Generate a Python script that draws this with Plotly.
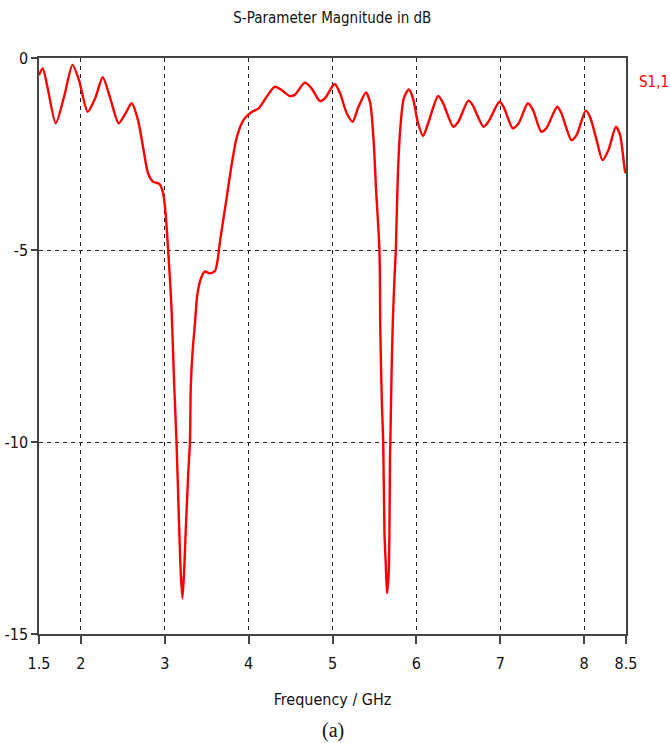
import plotly.graph_objects as go

freq_ghz = [1.50, 1.544, 1.60, 1.70, 1.80, 1.90, 1.98, 2.08, 2.17, 2.26, 2.35, 2.45, 2.53, 2.605,
            2.68, 2.74, 2.80, 2.86, 2.935, 2.98, 3.01, 3.04, 3.08, 3.11, 3.14, 3.17, 3.19, 3.21,
            3.23, 3.25, 3.28, 3.30, 3.31, 3.33, 3.36, 3.39, 3.44, 3.48, 3.54, 3.60, 3.63, 3.66,
            3.74, 3.80, 3.86, 3.94, 4.04, 4.12, 4.23, 4.31, 4.39, 4.49, 4.55, 4.67, 4.75, 4.85,
            4.91, 5.01, 5.03, 5.09, 5.17, 5.24, 5.31, 5.40, 5.45, 5.49, 5.52, 5.56, 5.57, 5.59,
            5.605, 5.62, 5.635, 5.65, 5.67, 5.68, 5.685, 5.69, 5.705, 5.72, 5.74, 5.755, 5.78,
            5.81, 5.85, 5.91, 5.96, 6.02, 6.08, 6.14, 6.26, 6.32, 6.44, 6.50, 6.62, 6.67, 6.80,
            6.86, 6.99, 7.04, 7.15, 7.22, 7.33, 7.39, 7.49, 7.55, 7.68, 7.73, 7.85, 7.91, 8.02,
            8.07, 8.15, 8.22, 8.29, 8.38, 8.43, 8.49, 8.50]
s11_db = [-0.45, -0.27, -0.75, -1.70, -1.00, -0.18, -0.60, -1.40, -1.05, -0.50, -1.05, -1.70, -1.45, -1.18,
          -1.61, -2.31, -3.00, -3.22, -3.28, -3.52, -4.05, -5.00, -6.48, -8.39, -10.0, -12.12, -13.40, -14.07,
          -13.40, -12.30, -10.80, -10.0, -8.56, -7.69, -6.91, -6.13, -5.69, -5.56, -5.61, -5.54, -5.26, -4.75,
          -3.61, -2.74, -2.05, -1.61, -1.40, -1.31, -0.96, -0.75, -0.83, -0.99, -0.96, -0.64, -0.79, -1.12,
          -1.05, -0.70, -0.68, -0.92, -1.44, -1.66, -1.27, -0.90, -1.18, -2.14, -3.44, -5.00, -7.08, -9.08,
          -10.0, -12.38, -13.16, -13.94, -13.42, -12.12, -10.47, -10.0, -8.13, -6.82, -5.69, -5.00, -3.00,
          -1.79, -1.05, -0.82, -1.05, -1.70, -2.03, -1.70, -0.99, -1.18, -1.79, -1.66, -1.11, -1.22, -1.79,
          -1.66, -1.14, -1.27, -1.83, -1.70, -1.18, -1.35, -1.92, -1.83, -1.27, -1.44, -2.14, -2.01, -1.37,
          -1.53, -2.14, -2.66, -2.40, -1.79, -2.01, -2.96, -3.00]

x_tick_vals = [1.5, 2, 3, 4, 5, 6, 7, 8, 8.5]
x_tick_text = ["1.5", "2", "3", "4", "5", "6", "7", "8", "8.5"]
y_tick_vals = [0, -5, -10, -15]
y_tick_text = ["0", "-5", "-10", "-15"]

FONT = "DejaVu Sans Condensed, Liberation Sans Narrow, Arial Narrow, sans-serif"

fig = go.Figure()
fig.add_trace(go.Scatter(x=freq_ghz, y=s11_db, mode="lines",
                         line=dict(color="#ff0000", width=2.4, shape="spline", smoothing=0.7),
                         showlegend=False))

fig.update_layout(
    width=670, height=743,
    margin=dict(l=39, r=44, t=58, b=109, autoexpand=False),
    paper_bgcolor="white", plot_bgcolor="white",
    font=dict(family=FONT, size=15, color="#111"),
    title=dict(text="S-Parameter Magnitude in dB", x=0.496, xanchor="center",
               y=1 - 18 / 743, yanchor="middle", font=dict(family=FONT, size=15, color="#111")),
    xaxis=dict(range=[1.5, 8.5], tickvals=x_tick_vals, ticktext=x_tick_text,
               showgrid=True, gridcolor="#222", griddash="4px,4px", gridwidth=1,
               showline=True, linecolor="#444", linewidth=1.5, mirror=True,
               ticks="outside", ticklen=8, tickcolor="#444", tickwidth=1.5,
               ticklabelstandoff=6,
               zeroline=False, tickfont=dict(size=16), automargin=False,
               title=dict(text="Frequency / GHz", font=dict(size=16), standoff=22)),
    yaxis=dict(range=[-15, 0], tickvals=y_tick_vals, ticktext=y_tick_text,
               showgrid=True, gridcolor="#222", griddash="4px,4px", gridwidth=1,
               showline=True, linecolor="#444", linewidth=1.5, mirror=True,
               ticks="outside", ticklen=6, tickcolor="#444", tickwidth=1.5,
               zeroline=False, tickfont=dict(size=16), automargin=False),
)

fig.add_annotation(text="S1,1", xref="paper", yref="paper", x=1.019, y=1 - 24 / 576,
                   xanchor="left", yanchor="middle", showarrow=False,
                   font=dict(family=FONT, size=15, color="#ff0000"))
fig.add_annotation(text="(a)", xref="paper", yref="paper", x=0.5, y=-(730 - 634) / 576,
                   xanchor="center", yanchor="middle", showarrow=False,
                   font=dict(family="Liberation Serif, Times New Roman, serif", size=20, color="#111"))

fig.write_html("out.html", config={"displayModeBar": False},
               post_script="document.body.style.margin='0';document.body.style.overflow='hidden';")
